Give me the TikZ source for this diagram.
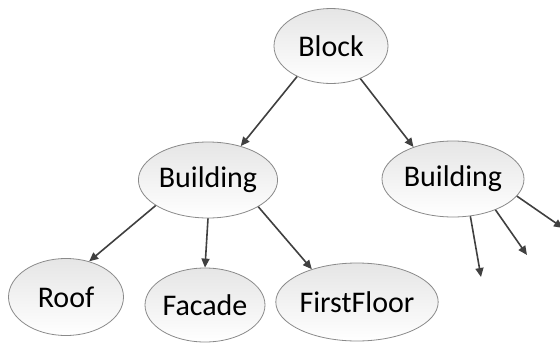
\documentclass[tikz,border=0pt]{standalone}
\usepackage{fontspec}
\setmainfont{Carlito}
\usetikzlibrary{shapes.geometric,arrows.meta}
\definecolor{edgegray}{HTML}{404040}
\definecolor{rimgray}{HTML}{8A8A8A}
\tikzset{
  tnode/.style={ellipse, draw=rimgray, line width=0.8pt, inner sep=0pt,
    top color=black!10, bottom color=white,
    font=\fontsize{30}{36}\selectfont},
  arr/.style={draw=edgegray, line width=1.6pt,
    -{Triangle[length=9pt,width=8pt]}, fill=edgegray}
}
\begin{document}
\begin{tikzpicture}[x=1pt,y=-1pt]
  \useasboundingbox (0,0) rectangle (560,343);
  % tree nodes
  \node[tnode, minimum width=114pt, minimum height=75pt] (block) at (331,46) {Block};
  \node[tnode, minimum width=128pt, minimum height=76pt] (bldA) at (208,180) {Building};
  \node[tnode, minimum width=142pt, minimum height=76pt] (bldB) at (453,179) {Building};
  \node[tnode, minimum width=115pt, minimum height=77pt] (roof) at (66,297) {Roof};
  \node[tnode, minimum width=116pt, minimum height=74pt] (facade) at (205,305) {Facade};
  \node[tnode, minimum width=140pt, minimum height=78pt] (floor) at (357,302) {FirstFloor};
  % loose ends of the second building's children
  \coordinate (cA) at (481,277);
  \coordinate (cB) at (527,255);
  \coordinate (cC) at (563,228);
  % connectors
  \draw[arr] (block.222) -- (bldA.46);
  \draw[arr] (block.312) -- (bldB.141);
  \draw[arr] (bldA.206) -- (roof.57);
  \draw[arr] (bldA.270) -- (facade.90);
  \draw[arr] (bldA.332) -- (floor.144);
  \draw[arr] (bldB.295) -- (cA);
  \draw[arr] (bldB.324) -- (cB);
  \draw[arr] (bldB.345) -- (cC);
\end{tikzpicture}
\end{document}
